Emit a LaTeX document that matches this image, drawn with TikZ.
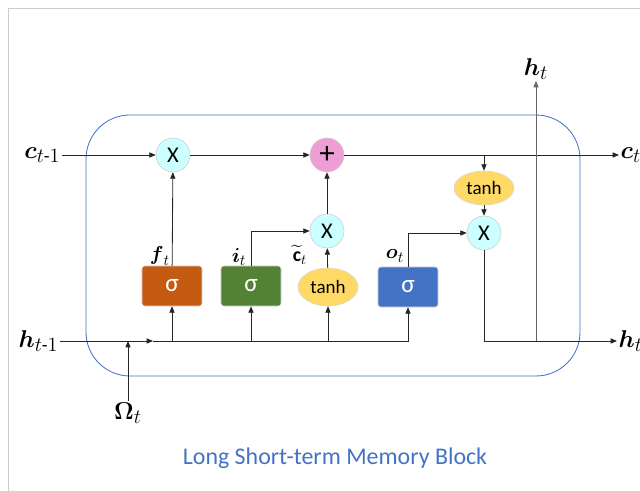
\documentclass[tikz,border=0pt]{standalone}
\usepackage{amsmath}
\usepackage{amssymb}
\usepackage{fontspec}
\setmainfont{Carlito}
\usepackage{tikz}
\usetikzlibrary{positioning, arrows.meta, shapes.geometric}

\definecolor{forgetc}{HTML}{C55A11}
\definecolor{inputc}{HTML}{548235}
\definecolor{outputc}{HTML}{4472C4}
\definecolor{tanhc}{HTML}{FFD966}
\definecolor{opc}{HTML}{CCFFFF}
\definecolor{plusc}{HTML}{EE9ED4}
\definecolor{blockc}{HTML}{4472C4}

\begin{document}
\begin{tikzpicture}[x=0.025cm, y=-0.025cm,
    op/.style={draw=black!20, circle, fill=opc, minimum size=0.85cm, inner sep=0pt, font=\fontsize{16}{16}\selectfont},
    gate/.style={draw=black!15, rounded corners=2pt, minimum width=1.5cm, minimum height=1cm, text=white, font=\fontsize{18}{18}\selectfont},
    squash/.style={draw=black!15, ellipse, fill=tanhc, minimum width=1.5cm, minimum height=0.9cm, inner sep=0pt, font=\fontsize{13.5}{14}\selectfont},
    lbl/.style={font=\fontsize{19}{19}\selectfont, inner sep=1pt},
    sublbl/.style={font=\fontsize{15.5}{15.5}\selectfont, inner sep=0pt},
    wire/.style={black!85, line width=0.6pt},
    flow/.style={wire, -{Triangle[length=1.6mm, width=1.3mm]}}]
    \useasboundingbox (0,0) rectangle (640,491);
    % Cadre
    \draw[black!20, line width=0.6pt] (640,8) -- (8,8) -- (8,491);
    \draw[blockc, line width=0.6pt, rounded corners=1.1cm] (86,115) rectangle (580,376);

    % Noeuds
    \node[op] (fx) at (173,155) {X};
    \node[op, fill=plusc, font=\fontsize{22}{22}\selectfont] (plus) at (327,155) {+};
    \node[op] (ix) at (327,231) {X};
    \node[squash, minimum height=0.85cm] (th) at (484,188) {tanh};
    \node[op] (ox) at (484,233) {X};
    \node[gate, fill=forgetc] (fs) at (172,286) {σ};
    \node[gate, fill=inputc] (is) at (251,286) {σ};
    \node[squash, minimum height=0.95cm] (cc) at (328,287) {tanh};
    \node[gate, fill=outputc] (os) at (408,287) {σ};

    \node[lbl, anchor=east] (cprev) at (62,155) {$\boldsymbol{c}_{t\text{-}1}$};
    \node[lbl, anchor=west] (cnext) at (619,155) {$\boldsymbol{c}_t$};
    \node[lbl, anchor=east] (hprev) at (60,341) {$\boldsymbol{h}_{t\text{-}1}$};
    \node[lbl, anchor=west] (hnext) at (617,341) {$\boldsymbol{h}_t$};
    \node[lbl, anchor=south] (htop) at (536,81) {$\boldsymbol{h}_t$};
    \node[lbl, anchor=north] (om) at (128,401) {$\boldsymbol{\Omega}_t$};

    \node[sublbl] (flbl) at (160,256) {$\boldsymbol{f}_t$};
    \node[sublbl] (ilbl) at (239,257) {$\boldsymbol{i}_t$};
    \node[sublbl, font=\fontsize{14}{14}\selectfont] (clbl) at (300,255) {$\widetilde{\mathbf{c}}_t$};
    \node[sublbl] (olbl) at (395,256) {$\boldsymbol{o}_t$};

    \coordinate (ctap) at (484,155);
    \coordinate (hmid) at (153,341);
    \coordinate (hjoin) at (408,341);

    % Fleches
    \draw[flow] (cprev) -- (fx);
    \draw[flow] (fx) -- (plus);
    \draw[flow] (plus) -- (cnext);
    \draw[flow] (ctap) -- (th);
    \draw[flow] (th) -- (ox);

    \draw[flow] (hprev) -- (hmid);
    \draw[flow] (hmid) -- (hjoin) -- (os);
    \draw[flow] (fs |- hjoin) -- (fs);
    \draw[flow] (is |- hjoin) -- (is);
    \draw[flow] (cc |- hjoin) -- (cc);
    \draw[flow] (om) -- (om |- hjoin);

    \draw[flow] (fs) -- (fx);
    \draw[flow] (is.north) |- (ix);
    \draw[flow] (cc) -- (ix);
    \draw[flow] (ix) -- (plus);
    \draw[flow] (os.north) |- (ox);

    \draw[flow] (ox.south) |- (hnext);
    \draw[flow, black!60] (htop |- hnext) -- (htop);

    \node[font=\fontsize{17}{20}\selectfont, text=blockc] (title) at (335,458) {Long Short-term Memory Block};
\end{tikzpicture}
\end{document}
